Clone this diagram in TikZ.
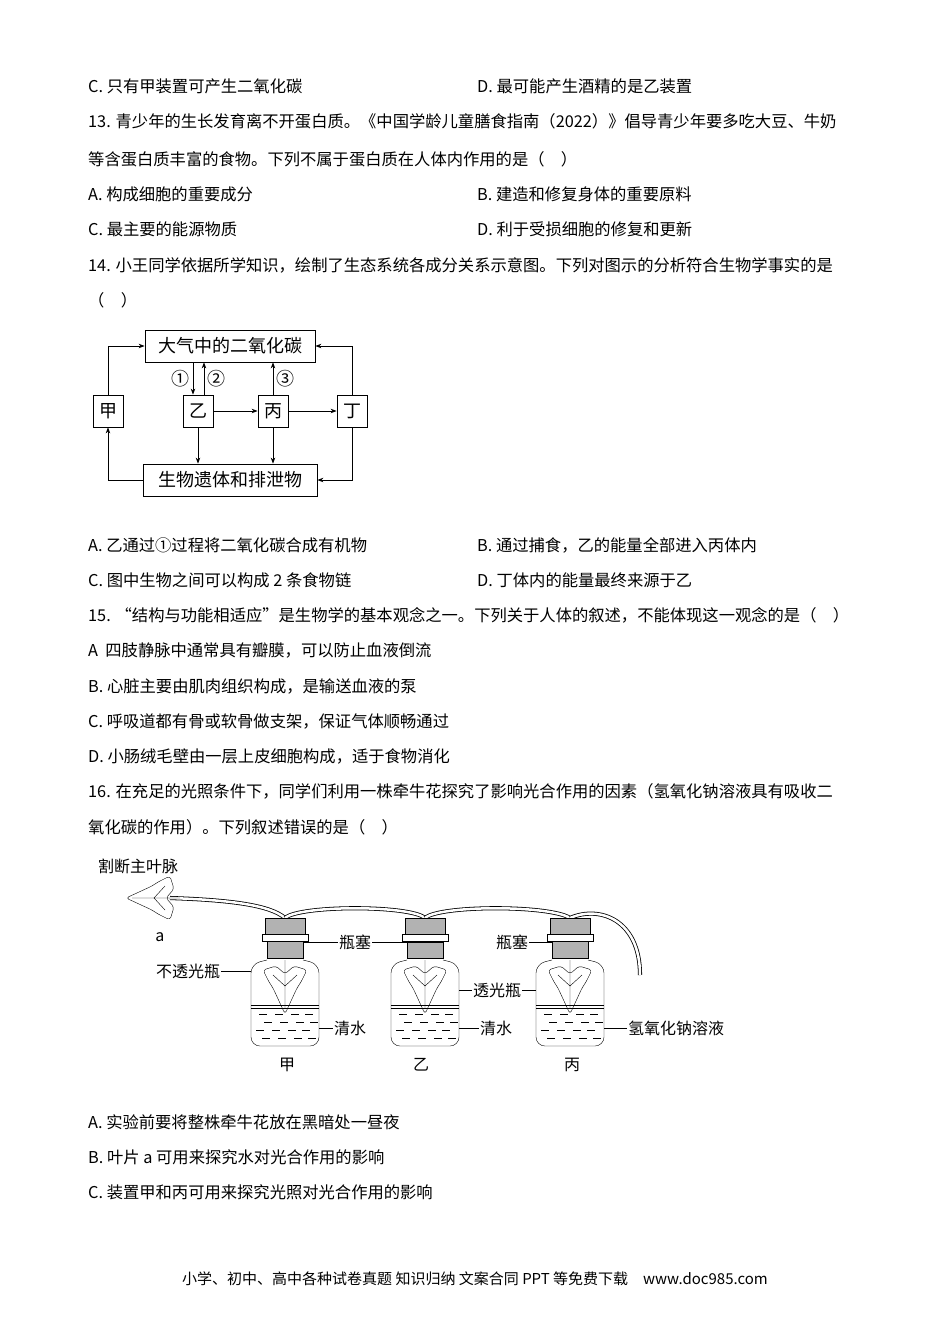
\documentclass[tikz,border=0pt]{standalone}
\usepackage{fontspec}
\setmainfont{Noto Sans CJK SC}
\usetikzlibrary{arrows.meta}
\tikzset{
  txt/.style={anchor=west, inner sep=0pt, font=\fontsize{16.3}{19}\selectfont},
  box/.style={draw, thick, minimum height=32pt, inner sep=0pt, font=\fontsize{18}{20}\selectfont},
  flow/.style={thick, -{Stealth[length=6pt]}},
  lab/.style={inner sep=1pt, font=\fontsize{16}{18}\selectfont},
  pics/ivyleaf/.style={code={
    \draw[rounded corners=3pt] (0,6) -- (-9,-2) -- (-22,2) -- (-16,14) -- (-12,20) -- (0,46) -- (12,20) -- (16,14) -- (22,2) -- (9,-2) -- cycle;
    \draw (0,-8) -- (0,40) (0,18) -- (-12,7) (0,18) -- (12,7);}},
  pics/bottle/.style={code={
    \draw[rounded corners=9pt] (-18,42) -- (-34,46) -- (-34,128) -- (34,128) -- (34,46) -- (18,42);
    \draw (-34,87) -- (34,87) (-34,90) -- (34,90);
    \foreach \yy/\sh in {96/0,104/5,112/-3,120/3}
      \foreach \xx in {-26,-10,6,20}
        \draw (\xx+\sh,\yy) -- +(8,0);
    \draw[fill=gray!60] (-20,0) rectangle (20,16);
    \draw[fill=white] (-23,16) rectangle (23,23);
    \draw[fill=gray!60] (-18,23) rectangle (18,40);
    \pic at (0,50) {ivyleaf};}}
}
\begin{document}
\begin{tikzpicture}[x=1pt,y=-1pt]
\useasboundingbox (0,0) rectangle (950,1344);
% text lines
\node[txt] at (88,86) {C. 只有甲装置可产生二氧化碳};
\node[txt] at (477,86) {D. 最可能产生酒精的是乙装置};
\node[txt] at (88,121) {13. 青少年的生长发育离不开蛋白质。《中国学龄儿童膳食指南（2022）》倡导青少年要多吃大豆、牛奶};
\node[txt] at (88,159) {等含蛋白质丰富的食物。下列不属于蛋白质在人体内作用的是（\quad ）};
\node[txt] at (88,194) {A. 构成细胞的重要成分};
\node[txt] at (477,194) {B. 建造和修复身体的重要原料};
\node[txt] at (88,229) {C. 最主要的能源物质};
\node[txt] at (477,229) {D. 利于受损细胞的修复和更新};
\node[txt] at (88,265) {14. 小王同学依据所学知识，绘制了生态系统各成分关系示意图。下列对图示的分析符合生物学事实的是};
\node[txt] at (88,300) {（\quad ）};
% ecosystem diagram
\node[box, minimum width=170pt] (air) at (230,346) {大气中的二氧化碳};
\node[box, minimum width=174pt] (rest) at (230,480) {生物遗体和排泄物};
\node[box, minimum width=30pt] (jia) at (108,411) {甲};
\node[box, minimum width=30pt] (yi) at (198,411) {乙};
\node[box, minimum width=30pt] (bing) at (273,411) {丙};
\node[box, minimum width=30pt] (ding) at (352,411) {丁};
\draw[flow] (jia.north) |- (air.west);
\draw[flow] (ding.north) |- (air.east);
\draw[flow] (ding.south) |- (rest.east);
\draw[flow] (rest.west) -| (jia.south);
\draw[flow] (air.south -| 193,0) -- (yi.north -| 193,0);
\draw[flow] (yi.north -| 204,0) -- (air.south -| 204,0);
\draw[flow] (bing.north) -- (bing.north |- air.south);
\draw[flow] (yi) -- (bing);
\draw[flow] (bing) -- (ding);
\draw[flow] (yi.south) -- (yi.south |- rest.north);
\draw[flow] (bing.south) -- (bing.south |- rest.north);
\node[lab, font=\fontsize{18}{20}\selectfont] at (180,379) {①};
\node[lab, font=\fontsize{18}{20}\selectfont] at (216,379) {②};
\node[lab, font=\fontsize{18}{20}\selectfont] at (285,379) {③};
\node[txt] at (88,545) {A. 乙通过①过程将二氧化碳合成有机物};
\node[txt] at (477,545) {B. 通过捕食，乙的能量全部进入丙体内};
\node[txt] at (88,580) {C. 图中生物之间可以构成 2 条食物链};
\node[txt] at (477,580) {D. 丁体内的能量最终来源于乙};
\node[txt] at (88,615) {15. “结构与功能相适应”是生物学的基本观念之一。下列关于人体的叙述，不能体现这一观念的是（\quad ）};
\node[txt] at (88,650) {A\ \ 四肢静脉中通常具有瓣膜，可以防止血液倒流};
\node[txt] at (88,686) {B. 心脏主要由肌肉组织构成，是输送血液的泵};
\node[txt] at (88,721) {C. 呼吸道都有骨或软骨做支架，保证气体顺畅通过};
\node[txt] at (88,756) {D. 小肠绒毛壁由一层上皮细胞构成，适于食物消化};
\node[txt] at (88,791) {16. 在充足的光照条件下，同学们利用一株牵牛花探究了影响光合作用的因素（氢氧化钠溶液具有吸收二};
\node[txt] at (88,827) {氧化碳的作用）。下列叙述错误的是（\quad ）};
% bottles diagram
\draw[double=white, double distance=2.5pt, thick] (170,898) .. controls (230,900) and (270,905) .. (285,918);
\draw[double=white, double distance=2.5pt, thick] (285,918) .. controls (300,905) and (410,905) .. (425,918);
\draw[double=white, double distance=2.5pt, thick] (425,918) .. controls (440,905) and (550,905) .. (570,918);
\draw[double=white, double distance=2.5pt, thick] (570,918) .. controls (600,905) and (640,920) .. (640,975);
\pic at (285,918) {bottle};
\pic at (425,918) {bottle};
\pic at (570,918) {bottle};
\pic[rotate=-90, fill=white] at (172,898) {ivyleaf};
\node[lab, anchor=west] (cut) at (97,866) {割断主叶脉};
\node[lab] (a) at (160,937) {a};
\node[lab] (sa) at (355,942) {瓶塞};
\node[lab] (sb) at (512,942) {瓶塞};
\node[lab] (opq) at (188,971) {不透光瓶};
\node[lab] (clr) at (497,990) {透光瓶};
\node[lab] (wa) at (350,1028) {清水};
\node[lab] (wb) at (496,1028) {清水};
\node[lab] (naoh) at (676,1028) {氢氧化钠溶液};
\coordinate (pa) at (304,942);
\coordinate (pb) at (443,942);
\coordinate (pc) at (552,942);
\draw (sa) -- (pa); \draw (sa) -- (pb); \draw (sb) -- (pc);
\draw (opq) -- (251,971);
\draw (clr) -- (459,990); \draw (clr) -- (536,990);
\draw (wa) -- (319,1028); \draw (wb) -- (459,1028); \draw (naoh) -- (604,1028);
\node[lab] at (287,1065) {甲};
\node[lab] at (421,1065) {乙};
\node[lab] at (572,1065) {丙};
\node[txt] at (88,1122) {A. 实验前要将整株牵牛花放在黑暗处一昼夜};
\node[txt] at (88,1157) {B. 叶片 a 可用来探究水对光合作用的影响};
\node[txt] at (88,1192) {C. 装置甲和丙可用来探究光照对光合作用的影响};
\node[font=\fontsize{15}{17}\selectfont] at (475,1279) {小学、初中、高中各种试卷真题\ 知识归纳\ 文案合同\ PPT 等免费下载\quad www.doc985.com};
\end{tikzpicture}
\end{document}
